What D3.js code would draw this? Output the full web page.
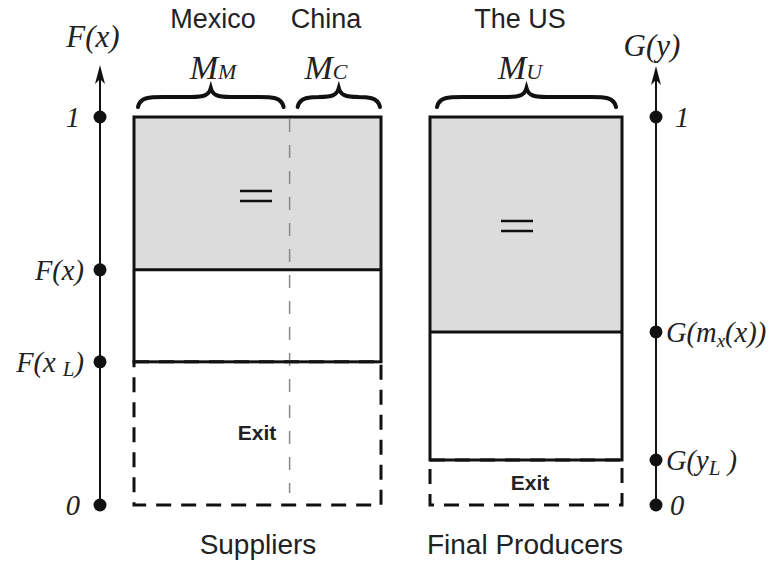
<!DOCTYPE html>
<html><head><meta charset="utf-8">
<script src="https://cdn.jsdelivr.net/npm/d3@7"></script>
<style>body{margin:0;background:#fff}svg{display:block}</style>
</head><body>
<svg id="c" width="782" height="563"></svg>
<script>
// ---- data ----
const supplierCountries = ["Mexico", "China"];
const supplierShares = [0.63, 0.37];          // share of width M_M, M_C
const supplierSymbols = ["M", "C"];
const producerCountries = ["The US"];
const producerSymbols = ["U"];
const supplierLevels = [0, 0.369, 0.606, 1];   // 0, F(x_L), F(x), 1
const supplierLabels = ["0", "F(x_L)", "F(x)", "1"];
const producerLevels = [0, 0.116, 0.446, 1];   // 0, G(y_L), G(m_x(x)), 1
const producerLabels = ["0", "G(y_L )", "G(m_x(x))", "1"];
const groupTitles = ["Suppliers", "Final Producers"];

const svg = d3.select("#c");
const y = d3.scaleLinear().domain([0, 1]).range([505, 117]);
const xS = d3.scaleLinear().domain([0, 1]).range([134, 381]);
const xP = d3.scaleLinear().domain([0, 1]).range([430, 622]);
const serif = "'Liberation Serif','DejaVu Serif',serif";
const sans = "'Liberation Sans',Arial,sans-serif";
const LS = 28.5; // label font size

function axis(x, levels, top) {
  svg.append("line").attr("x1",x).attr("x2",x).attr("y1",y(0)).attr("y2",top+8)
    .attr("stroke","#111").attr("stroke-width",2);
  svg.append("path").attr("d",`M${x-5},${top+19} L${x},${top} L${x+5},${top+19} L${x},${top+14} Z`).attr("fill","#111");
  svg.selectAll(null).data(levels).enter().append("circle")
    .attr("cx",x).attr("cy",d=>y(d)).attr("r",6.5).attr("fill","#111");
}
axis(100, supplierLevels, 65);
axis(656, producerLevels, 66);

// left axis labels
supplierLabels.forEach((lab, i) => {
  const g = svg.append("text").attr("x", lab.length===1 ? 80 : 84).attr("y", y(supplierLevels[i]) + 10)
    .attr("text-anchor","end").attr("font-family",serif).attr("font-style","italic")
    .attr("font-size",LS).attr("fill","#222");
  if (lab === "F(x_L)") {
    g.append("tspan").text("F(x ");
    g.append("tspan").text("L").attr("font-size",21).attr("dy",4);
    g.append("tspan").text(")").attr("dy",-4);
  } else g.text(lab);
});
// right axis labels
producerLabels.forEach((lab, i) => {
  const g = svg.append("text").attr("x", lab.length===1 ? (i===0?670:675) : 666).attr("y", y(producerLevels[i]) + 10)
    .attr("font-family",serif).attr("font-style","italic")
    .attr("font-size",LS).attr("fill","#222");
  if (lab === "G(y_L )") {
    g.append("tspan").text("G(y");
    g.append("tspan").text("L").attr("font-size",21).attr("dy",5);
    g.append("tspan").text(" )").attr("dy",-5);
  } else if (lab === "G(m_x(x))") {
    g.append("tspan").text("G(m");
    g.append("tspan").text("x").attr("font-size",19).attr("dy",5);
    g.append("tspan").text("(x))").attr("dy",-5);
  } else g.text(lab);
});
// axis titles
svg.append("text").attr("x",93).attr("y",47).attr("text-anchor","middle").attr("font-family",serif)
  .attr("font-style","italic").attr("font-size",31).attr("fill","#222").text("F(x)");
svg.append("text").attr("x",652).attr("y",56).attr("text-anchor","middle").attr("font-family",serif)
  .attr("font-style","italic").attr("font-size",31).attr("fill","#222").text("G(y)");

// ---- supplier box ----
const sBounds = [0, ...d3.cumsum(supplierShares)];
svg.append("rect").attr("x",xS(0)).attr("y",y(1)).attr("width",xS(1)-xS(0)).attr("height",y(supplierLevels[2])-y(1))
  .attr("fill","#dcdcdc");
svg.append("rect").attr("x",xS(0)).attr("y",y(supplierLevels[1])).attr("width",xS(1)-xS(0))
  .attr("height",y(0)-y(supplierLevels[1])).attr("fill","none").attr("stroke","#111")
  .attr("stroke-width",3).attr("stroke-dasharray","15,10");
svg.append("line").attr("x1",xS(sBounds[1])).attr("x2",xS(sBounds[1])).attr("y1",y(1)+2).attr("y2",y(0)-12)
  .attr("stroke","#888").attr("stroke-width",1.5).attr("stroke-dasharray","13,13");
svg.append("rect").attr("x",xS(0)).attr("y",y(1)).attr("width",xS(1)-xS(0)).attr("height",y(supplierLevels[1])-y(1))
  .attr("fill","none").attr("stroke","#111").attr("stroke-width",3);
svg.append("line").attr("x1",xS(0)).attr("x2",xS(1)).attr("y1",y(supplierLevels[2])).attr("y2",y(supplierLevels[2]))
  .attr("stroke","#111").attr("stroke-width",3);

// ---- producer box ----
svg.append("rect").attr("x",xP(0)).attr("y",y(1)).attr("width",xP(1)-xP(0)).attr("height",y(producerLevels[2])-y(1))
  .attr("fill","#dcdcdc");
svg.append("rect").attr("x",xP(0)).attr("y",y(producerLevels[1])).attr("width",xP(1)-xP(0))
  .attr("height",y(0)-y(producerLevels[1])).attr("fill","none").attr("stroke","#111")
  .attr("stroke-width",3).attr("stroke-dasharray","15,10");
svg.append("rect").attr("x",xP(0)).attr("y",y(1)).attr("width",xP(1)-xP(0)).attr("height",y(producerLevels[1])-y(1))
  .attr("fill","none").attr("stroke","#111").attr("stroke-width",3);
svg.append("line").attr("x1",xP(0)).attr("x2",xP(1)).attr("y1",y(producerLevels[2])).attr("y2",y(producerLevels[2]))
  .attr("stroke","#111").attr("stroke-width",3);

// "=" signs
function eq(cx, cy) {
  [-5, 5].forEach(o => svg.append("line").attr("x1",cx-16).attr("x2",cx+16).attr("y1",cy+o).attr("y2",cy+o)
    .attr("stroke","#111").attr("stroke-width",2.5));
}
eq(256, 196); eq(517, 226);
// Exit
svg.append("text").attr("x",257).attr("y",440).attr("text-anchor","middle").attr("font-family",sans)
  .attr("font-weight","bold").attr("font-size",21).attr("fill","#222").text("Exit");
svg.append("text").attr("x",530).attr("y",490).attr("text-anchor","middle").attr("font-family",sans)
  .attr("font-weight","bold").attr("font-size",21).attr("fill","#222").text("Exit");

// group titles
svg.append("text").attr("x",258).attr("y",554).attr("text-anchor","middle").attr("font-family",sans)
  .attr("font-size",28).attr("fill","#222").text(groupTitles[0]);
svg.append("text").attr("x",525).attr("y",554).attr("text-anchor","middle").attr("font-family",sans)
  .attr("font-size",28).attr("fill","#222").text(groupTitles[1]);

// braces
function brace(x1, x2) {
  const yb = 107, yf = 97, yt = 88, m = (x1+x2)/2;
  const d = `M${x1},${yb} C${x1+2},${yf} ${x1+12},${yf} ${x1+25},${yf} L${m-20},${yf} C${m-6},${yf} ${m-2},${yf-2} ${m},${yt}` +
            ` C${m+2},${yf-2} ${m+6},${yf} ${m+20},${yf} L${x2-25},${yf} C${x2-12},${yf} ${x2-2},${yf} ${x2},${yb}`;
  svg.append("path").attr("d",d).attr("fill","none").attr("stroke","#111").attr("stroke-width",4)
    .attr("stroke-linecap","round");
}
function countryHead(cx, name, sym, x1, x2) {
  svg.append("text").attr("x",cx).attr("y",28).attr("text-anchor","middle").attr("font-family",sans)
    .attr("font-size",27).attr("fill","#222").text(name);
  const t = svg.append("text").attr("x",cx).attr("y",79).attr("text-anchor","middle").attr("font-family",serif)
    .attr("font-style","italic").attr("font-size",34).attr("fill","#222");
  t.append("tspan").text("M");
  t.append("tspan").text(sym).attr("font-size",22);
  brace(x1, x2);
}
countryHead(213, supplierCountries[0], supplierSymbols[0], xS(0)+4, xS(sBounds[1])-6);
countryHead(326, supplierCountries[1], supplierSymbols[1], xS(sBounds[1])+8, xS(1)-1);
countryHead(520, producerCountries[0], producerSymbols[0], xP(0)+7, xP(1)-6);
</script>
</body></html>
